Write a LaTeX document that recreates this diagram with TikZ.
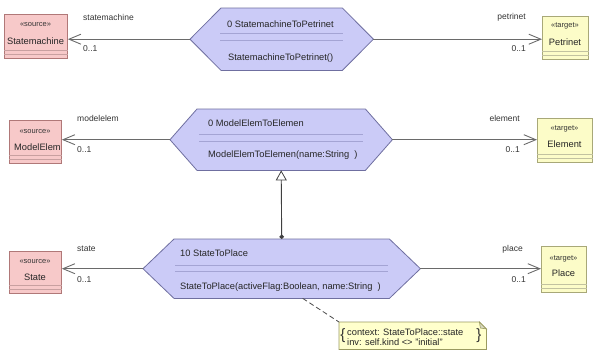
\documentclass[tikz,border=0pt]{standalone}
\usepackage{fontspec}
\setmainfont{Liberation Sans}
\usetikzlibrary{arrows.meta}

\definecolor{hexfill}{HTML}{CBCBF7}
\definecolor{hexdraw}{HTML}{6F6FA0}
\definecolor{hexsep}{HTML}{A4A4D4}
\definecolor{srcfill}{HTML}{F7C9C9}
\definecolor{srcdraw}{HTML}{B07878}
\definecolor{tgtfill}{HTML}{FCFCC8}
\definecolor{tgtdraw}{HTML}{A8A878}
\definecolor{connc}{HTML}{6A6A6A}
\definecolor{notefill}{HTML}{FFFFCC}
\definecolor{notedraw}{HTML}{9A9A60}

\newcommand\mainsz{\fontsize{9.3}{10}\selectfont}
\newcommand\stereosz{\fontsize{7.5}{8}\selectfont}
\newcommand\rolesz{\fontsize{8.5}{9}\selectfont}

% outline of an elongated hexagon around a named rectangle node
\newcommand\hexoutline[2]{%
  \draw[hexline] (#1.west) -- ([xshift=#2]#1.north west) -- ([xshift=-#2]#1.north east)
    -- (#1.east) -- ([xshift=-#2]#1.south east) -- ([xshift=#2]#1.south west) -- cycle;}

\begin{document}
\begin{tikzpicture}[x=1pt,y=-1pt,
  hexbody/.style={draw=none,inner sep=0,anchor=north west},
  hexline/.style={draw=hexdraw,fill=hexfill,line width=0.8pt,line join=miter},
  hexsepline/.style={draw=hexsep,line width=0.5pt},
  hextext/.style={font=\mainsz,inner sep=0,anchor=west,text=black!85},
  srcbox/.style={draw=srcdraw,fill=srcfill,line width=0.8pt,inner sep=0,anchor=north west},
  tgtbox/.style={draw=tgtdraw,fill=tgtfill,line width=0.8pt,inner sep=0,anchor=north west},
  srcsep/.style={draw=srcdraw!70,line width=0.4pt},
  tgtsep/.style={draw=tgtdraw!70,line width=0.4pt},
  stereo/.style={font=\stereosz,inner sep=0,text=black!80},
  boxname/.style={font=\mainsz,inner sep=0,text=black!85},
  role/.style={font=\rolesz,inner sep=0,text=black!80},
  conn/.style={draw=connc,line width=1.1pt,-{Straight Barb[length=12pt,width=10pt,line width=0.9pt]}},
  genline/.style={draw=black!75,line width=0.9pt,
    {Circle[length=4.5pt]}-{Triangle[open,length=10pt,width=11pt,line width=0.8pt]}},
  notebox/.style={draw=notedraw,fill=notefill,line width=0.7pt},
  noteline/.style={draw=black!70,line width=0.8pt,dash pattern=on 5pt off 3pt}]
\useasboundingbox (0,0) rectangle (595,354);

% ---------- source classes ----------
\node[srcbox,minimum width=63pt,minimum height=44pt] (sm) at (4,14) {};
\draw[srcsep] ([yshift=9pt]sm.south west) -- ([yshift=9pt]sm.south east);
\draw[srcsep] ([yshift=5pt]sm.south west) -- ([yshift=5pt]sm.south east);
\node[stereo] (smst) at (35.5,25) {«source»};
\node[boxname] (smnm) at (35.5,41) {Statemachine};

\node[srcbox,minimum width=52pt,minimum height=43pt] (me) at (9,120) {};
\draw[srcsep] ([yshift=9pt]me.south west) -- ([yshift=9pt]me.south east);
\draw[srcsep] ([yshift=5pt]me.south west) -- ([yshift=5pt]me.south east);
\node[stereo] (mest) at (35,132) {«source»};
\begin{scope}
  \clip (me.south west) rectangle (me.north east);
  \node[boxname,anchor=west] (menm) at (14,147) {ModelElem};
\end{scope}

\node[srcbox,minimum width=52pt,minimum height=42pt] (st) at (9,251) {};
\draw[srcsep] ([yshift=9pt]st.south west) -- ([yshift=9pt]st.south east);
\draw[srcsep] ([yshift=5pt]st.south west) -- ([yshift=5pt]st.south east);
\node[stereo] (stst) at (35,262) {«source»};
\node[boxname] (stnm) at (35,277) {State};

% ---------- target classes ----------
\node[tgtbox,minimum width=46pt,minimum height=43pt] (pn) at (542,16) {};
\draw[tgtsep] ([yshift=9pt]pn.south west) -- ([yshift=9pt]pn.south east);
\draw[tgtsep] ([yshift=5pt]pn.south west) -- ([yshift=5pt]pn.south east);
\node[stereo] (pnst) at (565,26) {«target»};
\node[boxname] (pnnm) at (565,42) {Petrinet};

\node[tgtbox,minimum width=55pt,minimum height=44pt] (el) at (537,118) {};
\draw[tgtsep] ([yshift=9pt]el.south west) -- ([yshift=9pt]el.south east);
\draw[tgtsep] ([yshift=5pt]el.south west) -- ([yshift=5pt]el.south east);
\node[stereo] (elst) at (564.5,129) {«target»};
\node[boxname] (elnm) at (564.5,144) {Element};

\node[tgtbox,minimum width=45pt,minimum height=46pt] (pl) at (541,246) {};
\draw[tgtsep] ([yshift=9pt]pl.south west) -- ([yshift=9pt]pl.south east);
\draw[tgtsep] ([yshift=5pt]pl.south west) -- ([yshift=5pt]pl.south east);
\node[stereo] (plst) at (563.5,259) {«target»};
\node[boxname] (plnm) at (563.5,273) {Place};

% ---------- relations (hexagons) ----------
\node[hexbody,minimum width=183pt,minimum height=62pt] (h1) at (190,8) {};
\hexoutline{h1}{31pt}
\draw[hexsepline] (220,33) -- (343,33);
\draw[hexsepline] (220,40) -- (343,40);
\node[hextext] (h1t) at (227,24) {0 StatemachineToPetrinet};
\node[hextext] (h1m) at (228,58) {StatemachineToPetrinet()};

\node[hexbody,minimum width=222pt,minimum height=61pt] (h2) at (170,109) {};
\hexoutline{h2}{27pt}
\draw[hexsepline] (199,134) -- (363,134);
\draw[hexsepline] (199,141) -- (363,141);
\node[hextext] (h2t) at (208,123) {0 ModelElemToElemen};
\node[hextext] (h2m) at (208,155) {ModelElemToElemen(name:String\ \ )};

\node[hexbody,minimum width=277pt,minimum height=59pt] (h3) at (143,239) {};
\hexoutline{h3}{31pt}
\draw[hexsepline] (175,265) -- (388,265);
\draw[hexsepline] (175,271) -- (388,271);
\node[hextext] (h3t) at (180,253) {10 StateToPlace};
\node[hextext] (h3m) at (180,287) {StateToPlace(activeFlag:Boolean, name:String\ \ )};

% ---------- domain connectors ----------
\draw[conn] (h1.west) -- (h1.west -| sm.east);
\draw[conn] (h1.east) -- (h1.east -| pn.west);
\draw[conn] (h2.west) -- (h2.west -| me.east);
\draw[conn] (h2.east) -- (h2.east -| el.west);
\draw[conn] (h3.west) -- (h3.west -| st.east);
\draw[conn] (h3.east) -- (h3.east -| pl.west);

\node[role,anchor=west] (r1a) at (83,17) {statemachine};
\node[role,anchor=west] (r1b) at (83,49) {0..1};
\node[role,anchor=east] (r1c) at (526,17) {petrinet};
\node[role,anchor=east] (r1d) at (526,49) {0..1};

\node[role,anchor=west] (r2a) at (77,118) {modelelem};
\node[role,anchor=west] (r2b) at (77,150) {0..1};
\node[role,anchor=east] (r2c) at (520,118) {element};
\node[role,anchor=east] (r2d) at (520,150) {0..1};

\node[role,anchor=west] (r3a) at (77,249) {state};
\node[role,anchor=west] (r3b) at (77,280) {0..1};
\node[role,anchor=east] (r3c) at (523,249) {place};
\node[role,anchor=east] (r3d) at (526,280) {0..1};

% ---------- generalization ----------
\draw[genline] (h3.north) -- (h2.south);

% ---------- OCL constraint note ----------
\node[draw=none,inner sep=0,anchor=north west,minimum width=147pt,minimum height=27pt] (note) at (339,322) {};
\draw[notebox] (note.north west) -- ([xshift=-7pt]note.north east) -- ([yshift=-7pt]note.north east)
  -- (note.south east) -- (note.south west) -- cycle;
\draw[draw=notedraw,fill=notedraw!40,line width=0.6pt] ([xshift=-7pt]note.north east)
  -- ([xshift=-6pt,yshift=-6pt]note.north east) -- ([yshift=-7pt]note.north east) -- cycle;
\node[font=\fontsize{15}{15}\selectfont,inner sep=0,text=black!80] (lbr) at (343,336) {\{};
\node[font=\fontsize{15}{15}\selectfont,inner sep=0,text=black!80] (rbr) at (479,336) {\}};
\node[font=\mainsz,inner sep=0,anchor=west,align=left,text=black!85] (ocl) at (347,337)
  {context: StateToPlace::state\\inv: self.kind <> "initial"};
\draw[noteline] ([xshift=21pt]h3.south) -- (note.north west);
\end{tikzpicture}
\end{document}
